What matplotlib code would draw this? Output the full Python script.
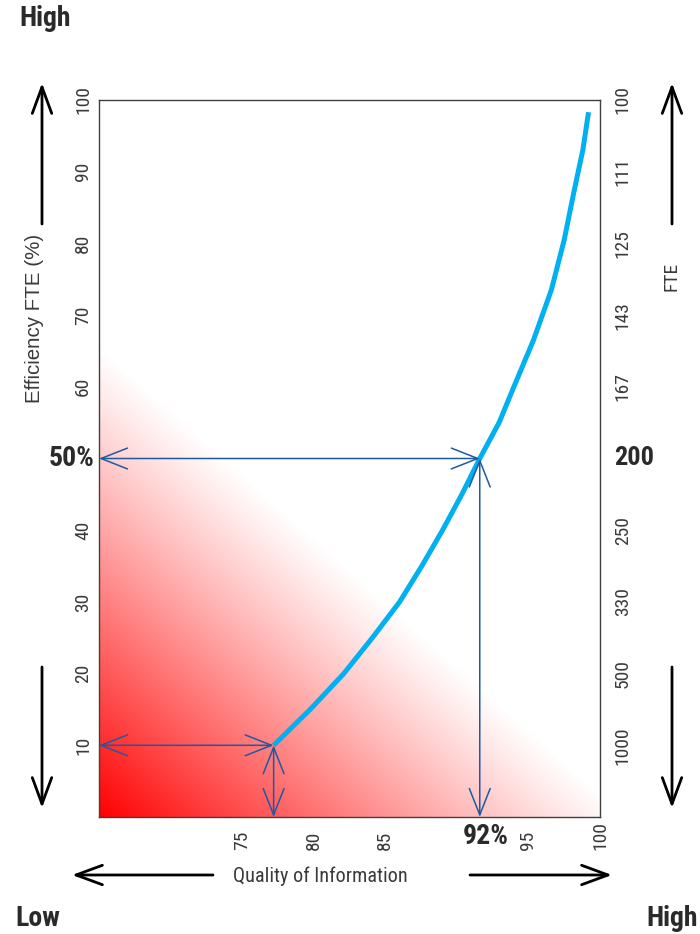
import numpy as np
import matplotlib
matplotlib.use("Agg")
import matplotlib.pyplot as plt
from matplotlib import font_manager as fm
from matplotlib.patches import FancyArrowPatch

names = {f.name for f in fm.fontManager.ttflist}
FONT = "Liberation Sans"
for cand in ["Liberation Sans Narrow", "Roboto Condensed", "Open Sans Condensed",
             "Noto Sans Condensed", "Arial Narrow"]:
    if cand in names:
        FONT = cand
        break
WIDE = "Liberation Sans"
plt.rcParams["font.family"] = [FONT, "DejaVu Sans"]

# ---- data ----
quality = [77.2, 79.75, 82.1, 84.1, 86.0, 87.55, 89.0, 90.35, 91.6,
           92.95, 93.9, 95.35, 96.6, 97.5, 98.2, 98.8, 99.2]
efficiency = [10, 15, 20, 25, 30, 35, 40, 45, 50,
              55, 59.6, 66.5, 73.5, 80.5, 87.4, 93.0, 98.3]

x_ticks = [75, 80, 85, 92, 95, 100]
x_labels = ["75", "80", "85", "92%", "95", "100"]
y_ticks = [10, 20, 30, 40, 60, 70, 80, 90, 100]
y_labels = ["10", "20", "30", "40", "60", "70", "80", "90", "100"]
fte_ticks = [10, 20, 30, 40, 50, 60, 70, 80, 90, 100]
fte_labels = ["1000", "500", "330", "250", "200", "167", "143", "125", "111", "100"]

marker_hi = (91.6, 50)
marker_lo = (77.2, 10)

TXT = "#3a3a3a"
DARK = "#2a2a2a"
BLUE_ARROW = "#1f5a9e"
CURVE = "#00b0f0"

fig = plt.figure(figsize=(7.0, 9.34), dpi=100)
ax = fig.add_axes([99/700, 117/934, 501/700, 717/934])
ax.set_xlim(65, 100)
ax.set_ylim(0, 100)

# gradient background (red in lower-left corner fading to white)
n = 300
u, v = np.meshgrid(np.linspace(0, 1, n), np.linspace(0, 1, n))
s = u / 1.06 + v / 0.66
alpha = np.clip(1 - s, 0, 1) ** 1.1
img = np.zeros((n, n, 4))
img[..., 0] = 1.0
img[..., 3] = alpha
ax.imshow(img, extent=(65, 100, 0, 100), origin="lower", aspect="auto",
          interpolation="bilinear", zorder=0)

# curve
ax.plot(quality, efficiency, color=CURVE, lw=3.6, solid_capstyle="butt",
        solid_joinstyle="round", zorder=3)

# blue double-headed guide arrows
def guide(p0, p1):
    a = FancyArrowPatch(p0, p1, arrowstyle="<->,head_length=1.9,head_width=0.75",
                        mutation_scale=10, color=BLUE_ARROW, lw=1.1,
                        shrinkA=0, shrinkB=0, zorder=4)
    ax.add_patch(a)

for (qx, ey) in (marker_hi, marker_lo):
    guide((65, ey), (qx, ey))
    guide((qx, ey), (qx, 0))

# spines
for sp in ax.spines.values():
    sp.set_color("#404040")
    sp.set_linewidth(1.0)

BOLD_SIZE = 20
TICK_SIZE = 14

# left ticks
ax.set_yticks(y_ticks)
ax.set_yticklabels(y_labels, rotation=90, va="center", ha="right")
ax.tick_params(axis="y", length=0, pad=5, labelsize=TICK_SIZE, labelcolor=TXT)
ax.annotate("50%", xy=(0, 50), xycoords=("axes fraction", "data"),
            xytext=(-3, 0), textcoords="offset points", ha="right", va="center",
            fontsize=BOLD_SIZE, fontweight="bold", color=DARK)

# bottom ticks
ax.set_xticks(x_ticks)
ax.set_xticklabels(x_labels, rotation=90, va="bottom", ha="center")
ax.tick_params(axis="x", length=0, pad=24, labelsize=TICK_SIZE, labelcolor=TXT)
for lab in ax.get_xticklabels():
    if lab.get_text() == "92%":
        lab.set_rotation(0)
        lab.set_fontsize(BOLD_SIZE)
        lab.set_fontweight("bold")
        lab.set_color(DARK)

# right ticks (FTE)
ax2 = ax.twinx()
ax2.set_ylim(0, 100)
ax2.set_yticks(fte_ticks)
ax2.set_yticklabels(fte_labels, rotation=90, va="center", ha="left")
ax2.tick_params(axis="y", length=0, pad=10, labelsize=TICK_SIZE, labelcolor=TXT)
for lab in ax2.get_yticklabels():
    if lab.get_text() == "200":
        lab.set_rotation(0)
        lab.set_fontsize(BOLD_SIZE - 1)
        lab.set_fontweight("bold")
        lab.set_color(DARK)
for sp in ax2.spines.values():
    sp.set_visible(False)

# axis titles
fig.text(35/700, 1 - 318/934, "Efficiency FTE (%)", rotation=90, ha="center",
         va="center", fontsize=14.8, color=TXT, family=[WIDE, "DejaVu Sans"])
fig.text(671/700, 1 - 276/934, "FTE", rotation=90, ha="center", va="center",
         fontsize=14, color=TXT)
fig.text(320/700, 1 - 876/934, "Quality of Information", ha="center", va="center",
         fontsize=14.6, color=TXT)

# corner labels
fig.text(45/700, 1 - 18/934, "High", ha="center", va="center", fontsize=BOLD_SIZE,
         fontweight="bold", color=DARK)
fig.text(38/700, 1 - 918/934, "Low", ha="center", va="center", fontsize=BOLD_SIZE,
         fontweight="bold", color=DARK)
fig.text(672/700, 1 - 918/934, "High", ha="center", va="center", fontsize=BOLD_SIZE,
         fontweight="bold", color=DARK)

# black direction arrows (figure pixel coords)
def farrow(x0, y0, x1, y1):
    a = FancyArrowPatch((x0/700, 1 - y0/934), (x1/700, 1 - y1/934),
                        transform=fig.transFigure,
                        arrowstyle="->,head_length=1.9,head_width=0.7",
                        mutation_scale=10, color="black", lw=2.0,
                        shrinkA=0, shrinkB=0)
    fig.add_artist(a)

farrow(42, 224, 42, 83)
farrow(42, 667, 42, 808)
farrow(672, 224, 672, 83)
farrow(672, 667, 672, 808)
farrow(213, 875, 72, 875)
farrow(470, 875, 612, 875)

fig.savefig("out.png", dpi=100)
